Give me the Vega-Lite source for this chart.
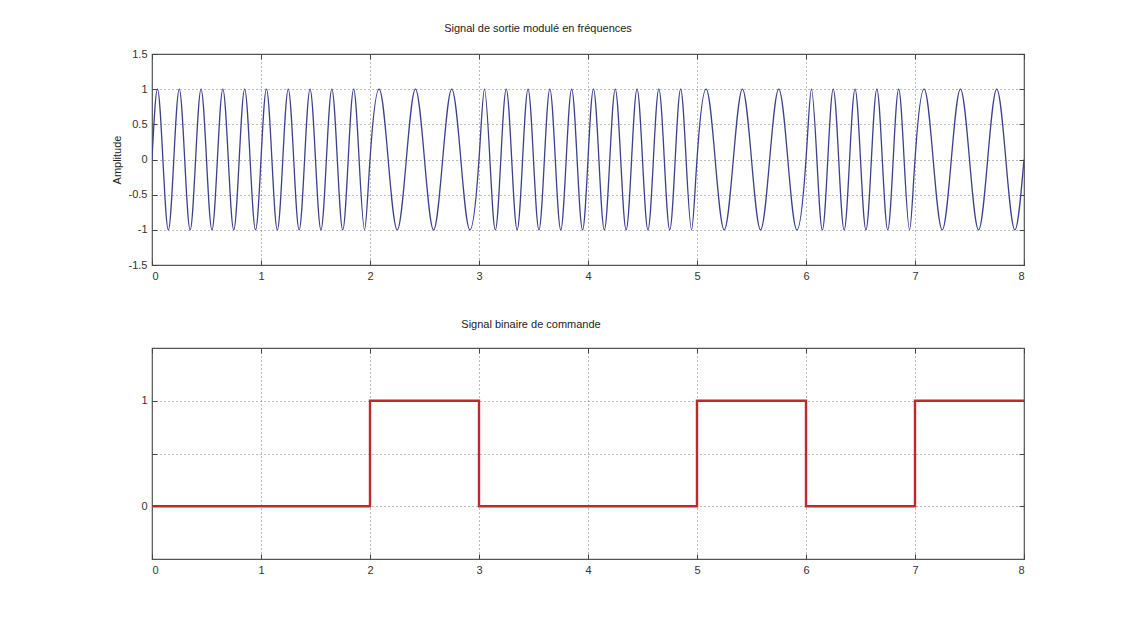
{
  "$schema": "https://vega.github.io/schema/vega-lite/v6.json",
  "background": "white",
  "autosize": {"type": "pad"},
  "padding": {"left": 110, "top": 22, "right": 40, "bottom": 30},
  "spacing": 35,
  "datasets": {
    "fm": [
      {"t":0,"a":0},{"t":0.05,"a":1},{"t":0.1,"a":0},{"t":0.15,"a":-1},{"t":0.2,"a":0},{"t":0.25,"a":1},{"t":0.3,"a":0},{"t":0.35,"a":-1},{"t":0.4,"a":0},{"t":0.45,"a":1},{"t":0.5,"a":0},{"t":0.55,"a":-1},{"t":0.6,"a":0},{"t":0.65,"a":1},{"t":0.7,"a":0},{"t":0.75,"a":-1},{"t":0.8,"a":0},{"t":0.85,"a":1},{"t":0.9,"a":0},{"t":0.95,"a":-1},{"t":1,"a":0},
      {"t":1.05,"a":1},{"t":1.1,"a":0},{"t":1.15,"a":-1},{"t":1.2,"a":0},{"t":1.25,"a":1},{"t":1.3,"a":0},{"t":1.35,"a":-1},{"t":1.4,"a":0},{"t":1.45,"a":1},{"t":1.5,"a":0},{"t":1.55,"a":-1},{"t":1.6,"a":0},{"t":1.65,"a":1},{"t":1.7,"a":0},{"t":1.75,"a":-1},{"t":1.8,"a":0},{"t":1.85,"a":1},{"t":1.9,"a":0},{"t":1.95,"a":-1},{"t":2,"a":0},
      {"t":2.0833,"a":1},{"t":2.1667,"a":0},{"t":2.25,"a":-1},{"t":2.3333,"a":0},{"t":2.4167,"a":1},{"t":2.5,"a":0},{"t":2.5833,"a":-1},{"t":2.6667,"a":0},{"t":2.75,"a":1},{"t":2.8333,"a":0},{"t":2.9167,"a":-1},{"t":3,"a":0},
      {"t":3.05,"a":1},{"t":3.1,"a":0},{"t":3.15,"a":-1},{"t":3.2,"a":0},{"t":3.25,"a":1},{"t":3.3,"a":0},{"t":3.35,"a":-1},{"t":3.4,"a":0},{"t":3.45,"a":1},{"t":3.5,"a":0},{"t":3.55,"a":-1},{"t":3.6,"a":0},{"t":3.65,"a":1},{"t":3.7,"a":0},{"t":3.75,"a":-1},{"t":3.8,"a":0},{"t":3.85,"a":1},{"t":3.9,"a":0},{"t":3.95,"a":-1},{"t":4,"a":0},
      {"t":4.05,"a":1},{"t":4.1,"a":0},{"t":4.15,"a":-1},{"t":4.2,"a":0},{"t":4.25,"a":1},{"t":4.3,"a":0},{"t":4.35,"a":-1},{"t":4.4,"a":0},{"t":4.45,"a":1},{"t":4.5,"a":0},{"t":4.55,"a":-1},{"t":4.6,"a":0},{"t":4.65,"a":1},{"t":4.7,"a":0},{"t":4.75,"a":-1},{"t":4.8,"a":0},{"t":4.85,"a":1},{"t":4.9,"a":0},{"t":4.95,"a":-1},{"t":5,"a":0},
      {"t":5.0833,"a":1},{"t":5.1667,"a":0},{"t":5.25,"a":-1},{"t":5.3333,"a":0},{"t":5.4167,"a":1},{"t":5.5,"a":0},{"t":5.5833,"a":-1},{"t":5.6667,"a":0},{"t":5.75,"a":1},{"t":5.8333,"a":0},{"t":5.9167,"a":-1},{"t":6,"a":0},
      {"t":6.05,"a":1},{"t":6.1,"a":0},{"t":6.15,"a":-1},{"t":6.2,"a":0},{"t":6.25,"a":1},{"t":6.3,"a":0},{"t":6.35,"a":-1},{"t":6.4,"a":0},{"t":6.45,"a":1},{"t":6.5,"a":0},{"t":6.55,"a":-1},{"t":6.6,"a":0},{"t":6.65,"a":1},{"t":6.7,"a":0},{"t":6.75,"a":-1},{"t":6.8,"a":0},{"t":6.85,"a":1},{"t":6.9,"a":0},{"t":6.95,"a":-1},{"t":7,"a":0},
      {"t":7.0833,"a":1},{"t":7.1667,"a":0},{"t":7.25,"a":-1},{"t":7.3333,"a":0},{"t":7.4167,"a":1},{"t":7.5,"a":0},{"t":7.5833,"a":-1},{"t":7.6667,"a":0},{"t":7.75,"a":1},{"t":7.8333,"a":0},{"t":7.9167,"a":-1},{"t":8,"a":0}
    ],
    "bits": [
      {"t":0,"b":0},{"t":1,"b":0},{"t":2,"b":1},{"t":3,"b":0},{"t":4,"b":0},{"t":5,"b":1},{"t":6,"b":0},{"t":7,"b":1},{"t":8,"b":1}
    ]
  },
  "vconcat": [
    {
      "width": 872,
      "height": 211,
      "title": {"text": "Signal de sortie modulé en fréquences", "dx": -50, "offset": 14},
      "data": {"name": "fm"},
      "layer": [
        {
          "mark": {"type": "line", "interpolate": "natural", "color": "#3d418d", "strokeWidth": 1.3, "clip": true},
          "encoding": {
            "x": {"field": "t", "type": "quantitative", "scale": {"domain": [0, 8], "nice": false, "zero": false},
                  "axis": {"values": [0,1,2,3,4,5,6,7,8], "title": null, "grid": true, "labelExpr": "'' + datum.value"}},
            "y": {"field": "a", "type": "quantitative", "scale": {"domain": [-1.5, 1.5], "nice": false, "zero": false},
                  "axis": {"values": [-1.5,-1,-0.5,0,0.5,1,1.5], "title": "Amplitude", "grid": true, "labelExpr": "'' + datum.value"}}
          }
        },
        {
          "mark": {"type": "line", "opacity": 0},
          "encoding": {
            "x": {"field": "t", "type": "quantitative", "axis": {"orient": "top", "values": [0,1,2,3,4,5,6,7,8], "labels": false, "grid": false, "title": null}},
            "y": {"field": "a", "type": "quantitative", "axis": {"orient": "right", "values": [-1.5,-1,-0.5,0,0.5,1,1.5], "labels": false, "grid": false, "title": null}}
          }
        }
      ],
      "resolve": {"axis": {"x": "independent", "y": "independent"}}
    },
    {
      "width": 872,
      "height": 211,
      "title": {"text": "Signal binaire de commande", "dx": -57, "offset": 18},
      "data": {"name": "bits"},
      "layer": [
        {
          "mark": {"type": "line", "interpolate": "step-after", "color": "#c0282d", "strokeWidth": 2.4},
          "encoding": {
            "x": {"field": "t", "type": "quantitative", "scale": {"domain": [0, 8], "nice": false, "zero": false},
                  "axis": {"values": [0,1,2,3,4,5,6,7,8], "title": null, "grid": true, "labelExpr": "'' + datum.value"}},
            "y": {"field": "b", "type": "quantitative", "scale": {"domain": [-0.5, 1.5], "nice": false, "zero": false},
                  "axis": {"values": [0, 0.5, 1], "title": null, "grid": true, "labelExpr": "datum.value == 0.5 ? '' : '' + datum.value"}}
          }
        },
        {
          "mark": {"type": "line", "opacity": 0},
          "encoding": {
            "x": {"field": "t", "type": "quantitative", "axis": {"orient": "top", "values": [0,1,2,3,4,5,6,7,8], "labels": false, "grid": false, "title": null}},
            "y": {"field": "b", "type": "quantitative", "axis": {"orient": "right", "values": [0, 0.5, 1], "labels": false, "grid": false, "title": null}}
          }
        }
      ],
      "resolve": {"axis": {"x": "independent", "y": "independent"}}
    }
  ],
  "config": {
    "font": "Liberation Sans",
    "view": {"stroke": "#555555", "strokeWidth": 1.2},
    "axis": {
      "domain": false,
      "labelFont": "Liberation Sans",
      "labelFontSize": 11,
      "labelColor": "#333333",
      "labelPadding": 10,
      "tickColor": "#444444",
      "tickSize": -5,
      "tickWidth": 1,
      "gridColor": "#555555",
      "gridDash": [1, 3],
      "gridWidth": 1,
      "gridOpacity": 0.8,
      "titleFont": "Liberation Sans",
      "titleFontSize": 11,
      "titleFontWeight": "normal",
      "titleColor": "#222222",
      "titlePadding": 6
    },
    "title": {"font": "Liberation Sans", "fontSize": 11, "fontWeight": "normal", "color": "#222222", "anchor": "middle"}
  }
}
